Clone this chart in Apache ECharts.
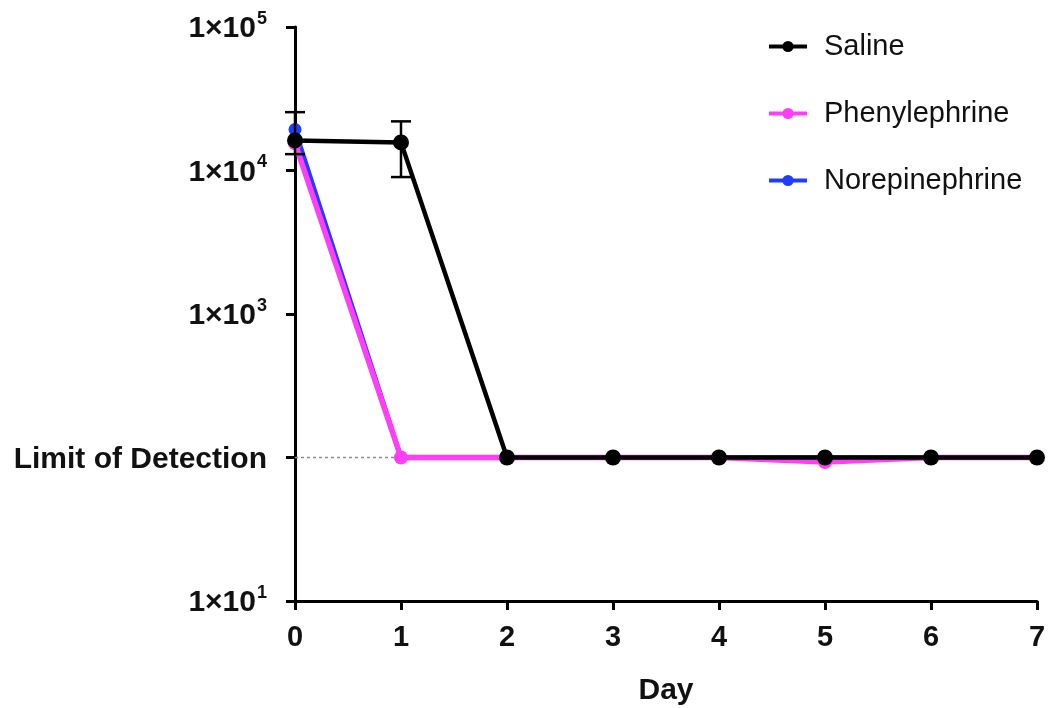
<!DOCTYPE html>
<html>
<head>
<meta charset="utf-8">
<script src="https://cdn.jsdelivr.net/npm/echarts@6/dist/echarts.min.js"></script>
<style>html,body{margin:0;padding:0;background:#fff}#c{width:1051px;height:708px}</style>
</head>
<body>
<div id="c"></div>
<script>
const days = [0, 1, 2, 3, 4, 5, 6, 7];
const saline = [16200, 15700, 100, 100, 100, 100, 100, 100];
const phenylephrine = [15500, 100, 100, 100, 100, 93, 100, 100];
const norepinephrine = [19300, 100, 100, 100, 100, 100, 100, 100];
// error bars [day, low, high]
const salineErr = [[0, 13000, 25500], [1, 9000, 22000]];
const limitOfDetection = 100;

const font = 'Liberation Sans, Arial, Helvetica, sans-serif';
const pair = arr => days.map((d, i) => [d, arr[i]]);

const chart = echarts.init(document.getElementById('c'));
chart.setOption({
  animation: false,
  backgroundColor: '#fff',
  grid: {left: 295, right: 14, top: 27, bottom: 107, containLabel: false, outerBoundsMode: 'none'},
  legend: {
    orient: 'vertical', left: 762, top: 27, itemGap: 38, itemWidth: 38, itemHeight: 14,
    data: ['Saline', 'Phenylephrine', 'Norepinephrine'],
    lineStyle: {width: 4},
    textStyle: {fontFamily: font, fontSize: 29, color: '#111', padding: [0, 0, 0, 12]}
  },
  xAxis: {
    type: 'value', min: 0, max: 7, interval: 1,
    name: 'Day', nameLocation: 'middle', nameGap: 75,
    nameTextStyle: {fontFamily: font, fontSize: 30, fontWeight: 'bold', color: '#111'},
    axisLine: {lineStyle: {color: '#000', width: 3}},
    axisTick: {show: true, inside: false, length: 9, lineStyle: {color: '#000', width: 3}},
    axisLabel: {fontFamily: font, fontSize: 29, fontWeight: 'bold', color: '#111', margin: 22},
    splitLine: {show: false}
  },
  yAxis: {
    type: 'log', logBase: 10, min: 10, max: 100000,
    name: 'CFU/ml', nameLocation: 'middle', nameGap: 203, nameRotate: 90,
    nameTextStyle: {fontFamily: font, fontSize: 29, fontWeight: 'bold', color: '#111'},
    axisLine: {show: true, lineStyle: {color: '#000', width: 3}},
    axisTick: {show: true, inside: false, length: 9, lineStyle: {color: '#000', width: 3}},
    splitLine: {show: false},
    axisLabel: {
      margin: 28,
      formatter: function (v) {
        if (Math.abs(v - limitOfDetection) < 1e-6) return '{b|Limit of Detection}';
        const e = String(Math.round(Math.log10(v)));
        return '{b|1×10}{s|' + e + '}';
      },
      rich: {
        b: {fontFamily: font, fontSize: 30, fontWeight: 'bold', color: '#111', lineHeight: 34, verticalAlign: 'bottom'},
        s: {fontFamily: font, fontSize: 18, fontWeight: 'bold', color: '#111', lineHeight: 34, verticalAlign: 'top', padding: [0, 0, 17, 1]}
      }
    }
  },
  series: [
    {
      name: 'LoD', type: 'line', z: 1, silent: true, symbol: 'none',
      data: [[0, limitOfDetection], [7, limitOfDetection]],
      lineStyle: {color: '#8a8a8a', width: 1.5, type: [3, 3]}
    },
    {
      name: 'Norepinephrine', type: 'line', z: 2, data: pair(norepinephrine),
      symbol: 'circle', symbolSize: 13,
      itemStyle: {color: '#1f3dff'}, lineStyle: {color: '#1f3dff', width: 4.5}
    },
    {
      name: 'Phenylephrine', type: 'line', z: 3, data: pair(phenylephrine),
      symbol: 'circle', symbolSize: 14,
      itemStyle: {color: '#ff3ff5'}, lineStyle: {color: '#ff3ff5', width: 5.5}
    },
    {
      name: 'Saline', type: 'line', z: 5, data: pair(saline),
      symbol: 'circle', symbolSize: 16,
      itemStyle: {color: '#000'}, lineStyle: {color: '#000', width: 4.5}
    },
    {
      name: 'SalineErr', type: 'custom', z: 4, silent: true,
      data: salineErr,
      renderItem: function (params, api) {
        const x = api.value(0);
        const lo = api.coord([x, api.value(1)]);
        const hi = api.coord([x, api.value(2)]);
        const hw = 10;
        const st = {stroke: '#000', lineWidth: 2.5};
        return {
          type: 'group',
          children: [
            {type: 'line', shape: {x1: lo[0], y1: lo[1], x2: hi[0], y2: hi[1]}, style: st},
            {type: 'line', shape: {x1: lo[0] - hw, y1: lo[1], x2: lo[0] + hw, y2: lo[1]}, style: st},
            {type: 'line', shape: {x1: hi[0] - hw, y1: hi[1], x2: hi[0] + hw, y2: hi[1]}, style: st}
          ]
        };
      }
    }
  ]
});
</script>
</body>
</html>
